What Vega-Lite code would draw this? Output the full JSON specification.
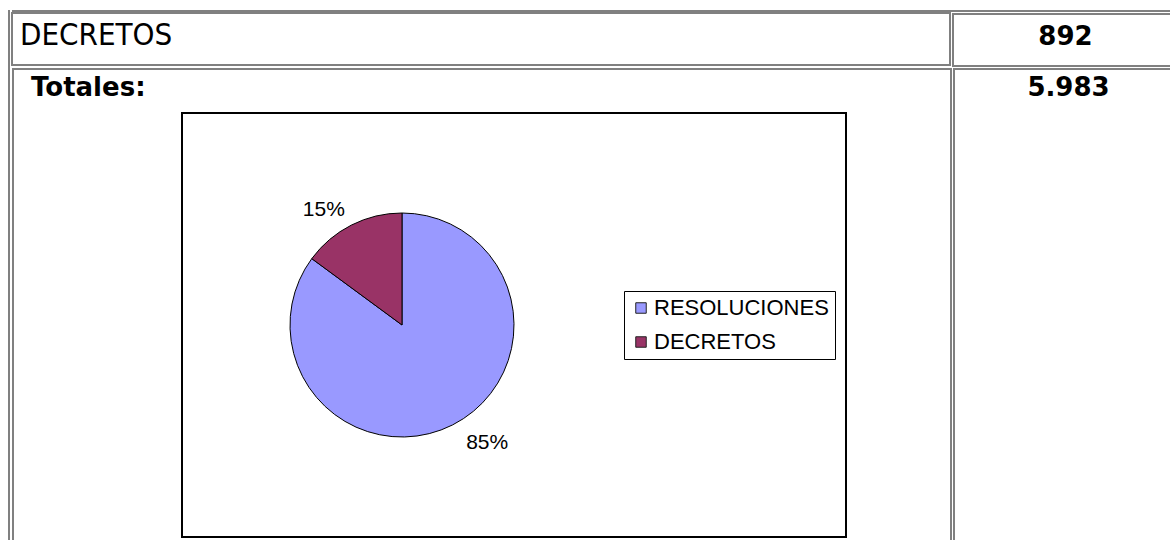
{
  "$schema": "https://vega.github.io/schema/vega-lite/v6.json",
  "background": "white",
  "padding": {"left": 8, "top": 10, "right": 0, "bottom": 0},
  "config": {
    "locale": {"number": {"decimal": ",", "thousands": ".", "grouping": [3], "currency": ["", " €"]}},
    "view": {"stroke": null},
    "font": "Liberation Sans"
  },
  "datasets": {
    "tabla": [
      {"concepto": "DECRETOS", "cantidad": 892},
      {"concepto": "Totales:", "cantidad": 5983}
    ],
    "torta": [
      {"tipo": "RESOLUCIONES", "cantidad": 5091, "porcentaje": 0.85},
      {"tipo": "DECRETOS", "cantidad": 892, "porcentaje": 0.15}
    ]
  },
  "spacing": 1,
  "hconcat": [
    {"width": 2, "height": 530, "view": {"fill": "#808080", "stroke": null}, "data": {"values": []}, "mark": "text", "encoding": {"text": {"value": ""}}},
    {
      "spacing": 0,
      "vconcat": [
        {"width": 1159, "height": 2, "view": {"fill": "#808080", "stroke": null}, "data": {"values": []}, "mark": "text", "encoding": {"text": {"value": ""}}},
        {
          "spacing": 1,
          "vconcat": [
            {
              "spacing": 1,
              "hconcat": [
                {
                  "width": 938, "height": 52,
                  "view": {"stroke": "#808080", "strokeWidth": 2},
                  "data": {"name": "tabla"},
                  "transform": [{"filter": "datum.concepto === 'DECRETOS'"}],
                  "mark": {"type": "text", "align": "left", "baseline": "alphabetic", "font": "DejaVu Sans Condensed, DejaVu Sans", "fontSize": 31, "dx": 8, "dy": 32, "color": "black"},
                  "encoding": {
                    "x": {"field": "concepto", "type": "nominal", "axis": null, "scale": {"type": "point", "padding": 0, "align": 0}},
                    "y": {"field": "concepto", "type": "nominal", "axis": null, "scale": {"type": "point", "padding": 0, "align": 0}},
                    "text": {"field": "concepto"}
                  }
                },
                {
                  "spacing": 0,
                  "hconcat": [
                    {"width": 2, "height": 54, "view": {"fill": "#808080", "stroke": null}, "data": {"values": []}, "mark": "text", "encoding": {"text": {"value": ""}}},
                    {
                      "spacing": 0,
                      "vconcat": [
                        {"width": 216, "height": 2, "view": {"fill": "#808080", "stroke": null}, "data": {"values": []}, "mark": "text", "encoding": {"text": {"value": ""}}},
                        {
                          "width": 216, "height": 50,
                          "data": {"name": "tabla"},
                          "transform": [{"filter": "datum.concepto === 'DECRETOS'"}],
                          "mark": {"type": "text", "align": "center", "baseline": "alphabetic", "font": "DejaVu Sans", "fontWeight": "bold", "fontSize": 26, "dx": 111.5, "dy": 29.5, "color": "black"},
                          "encoding": {
                            "x": {"field": "concepto", "type": "nominal", "axis": null, "scale": {"type": "point", "padding": 0, "align": 0}},
                            "y": {"field": "concepto", "type": "nominal", "axis": null, "scale": {"type": "point", "padding": 0, "align": 0}},
                            "text": {"field": "cantidad", "type": "quantitative", "format": ",d"}
                          }
                        },
                        {"width": 216, "height": 2, "view": {"fill": "#808080", "stroke": null}, "data": {"values": []}, "mark": "text", "encoding": {"text": {"value": ""}}}
                      ]
                    }
                  ]
                }
              ]
            },
            {
              "spacing": 1,
              "hconcat": [
                {
                  "spacing": 0,
                  "hconcat": [
                    {"width": 2, "height": 473, "view": {"fill": "#808080", "stroke": null}, "data": {"values": []}, "mark": "text", "encoding": {"text": {"value": ""}}},
                    {
                      "spacing": 0,
                      "vconcat": [
                        {"width": 936, "height": 2, "view": {"fill": "#808080", "stroke": null}, "data": {"values": []}, "mark": "text", "encoding": {"text": {"value": ""}}},
                        {
                          "width": 150, "height": 42,
                          "data": {"name": "tabla"},
                          "transform": [{"filter": "datum.concepto === 'Totales:'"}],
                          "mark": {"type": "text", "align": "left", "baseline": "alphabetic", "font": "DejaVu Sans", "fontWeight": "bold", "fontSize": 26, "dx": 17, "dy": 26, "color": "black"},
                          "encoding": {
                            "x": {"field": "concepto", "type": "nominal", "axis": null, "scale": {"type": "point", "padding": 0, "align": 0}},
                            "y": {"field": "concepto", "type": "nominal", "axis": null, "scale": {"type": "point", "padding": 0, "align": 0}},
                            "text": {"field": "concepto"}
                          }
                        },
                        {
                          "spacing": 0,
                          "hconcat": [
                            {"width": 167, "height": 1, "data": {"values": []}, "mark": "text", "encoding": {"text": {"value": ""}}},
                            {
                              "spacing": 0,
                              "hconcat": [
                                {"width": 2, "height": 426, "view": {"fill": "black", "stroke": null}, "data": {"values": []}, "mark": "text", "encoding": {"text": {"value": ""}}},
                                {
                                  "spacing": 0,
                                  "vconcat": [
                                    {"width": 662, "height": 2, "view": {"fill": "black", "stroke": null}, "data": {"values": []}, "mark": "text", "encoding": {"text": {"value": ""}}},
                                    {
                                      "width": 438, "height": 422,
                                      "data": {"name": "torta"},
                                      "encoding": {
                                        "theta": {"field": "cantidad", "type": "quantitative", "stack": true},
                                        "order": {"field": "tipo", "type": "nominal", "sort": "descending"}
                                      },
                                      "layer": [
                                        {
                                          "mark": {"type": "arc", "radius": 112, "stroke": "black", "strokeWidth": 1},
                                          "encoding": {
                                            "color": {
                                              "field": "tipo", "type": "nominal",
                                              "sort": ["RESOLUCIONES", "DECRETOS"],
                                              "scale": {"domain": ["RESOLUCIONES", "DECRETOS"], "range": ["#9999FF", "#993366"]},
                                              "legend": {
                                                "orient": "none", "legendX": 616, "legendY": 281,
                                                "title": null, "strokeColor": "black", "fillColor": "white",
                                                "padding": 6, "labelFont": "Liberation Sans", "labelFontSize": 22, "labelColor": "black",
                                                "labelLimit": 400, "labelOffset": 2,
                                                "symbolType": "square", "symbolSize": 110, "symbolStrokeColor": "#222", "symbolStrokeWidth": 1, "symbolOpacity": 1,
                                                "rowPadding": 12
                                              }
                                            }
                                          }
                                        },
                                        {
                                          "mark": {"type": "text", "radius": 140, "font": "Liberation Sans", "fontSize": 21, "align": "center", "baseline": "middle", "dx": -15, "dy": 10, "color": "black"},
                                          "encoding": {
                                            "text": {"condition": {"test": "datum.tipo === 'DECRETOS'", "field": "porcentaje", "type": "quantitative", "format": ".0%"}, "value": ""}
                                          }
                                        },
                                        {
                                          "mark": {"type": "text", "radius": 140, "font": "Liberation Sans", "fontSize": 21, "align": "center", "baseline": "middle", "dx": 22, "dy": -7, "color": "black"},
                                          "encoding": {
                                            "text": {"condition": {"test": "datum.tipo === 'RESOLUCIONES'", "field": "porcentaje", "type": "quantitative", "format": ".0%"}, "value": ""}
                                          }
                                        }
                                      ]
                                    },
                                    {"width": 662, "height": 2, "view": {"fill": "black", "stroke": null}, "data": {"values": []}, "mark": "text", "encoding": {"text": {"value": ""}}}
                                  ]
                                },
                                {"width": 2, "height": 426, "view": {"fill": "black", "stroke": null}, "data": {"values": []}, "mark": "text", "encoding": {"text": {"value": ""}}}
                              ]
                            }
                          ]
                        }
                      ]
                    },
                    {"width": 2, "height": 473, "view": {"fill": "#808080", "stroke": null}, "data": {"values": []}, "mark": "text", "encoding": {"text": {"value": ""}}}
                  ]
                },
                {
                  "spacing": 0,
                  "hconcat": [
                    {"width": 2, "height": 473, "view": {"fill": "#808080", "stroke": null}, "data": {"values": []}, "mark": "text", "encoding": {"text": {"value": ""}}},
                    {
                      "spacing": 0,
                      "vconcat": [
                        {"width": 216, "height": 2, "view": {"fill": "#808080", "stroke": null}, "data": {"values": []}, "mark": "text", "encoding": {"text": {"value": ""}}},
                        {
                          "width": 216, "height": 100,
                          "data": {"name": "tabla"},
                          "transform": [{"filter": "datum.concepto === 'Totales:'"}],
                          "mark": {"type": "text", "align": "center", "baseline": "alphabetic", "font": "DejaVu Sans", "fontWeight": "bold", "fontSize": 26, "dx": 113.5, "dy": 26, "color": "black"},
                          "encoding": {
                            "x": {"field": "concepto", "type": "nominal", "axis": null, "scale": {"type": "point", "padding": 0, "align": 0}},
                            "y": {"field": "concepto", "type": "nominal", "axis": null, "scale": {"type": "point", "padding": 0, "align": 0}},
                            "text": {"field": "cantidad", "type": "quantitative", "format": ",d"}
                          }
                        }
                      ]
                    }
                  ]
                }
              ]
            }
          ]
        }
      ]
    }
  ]
}
